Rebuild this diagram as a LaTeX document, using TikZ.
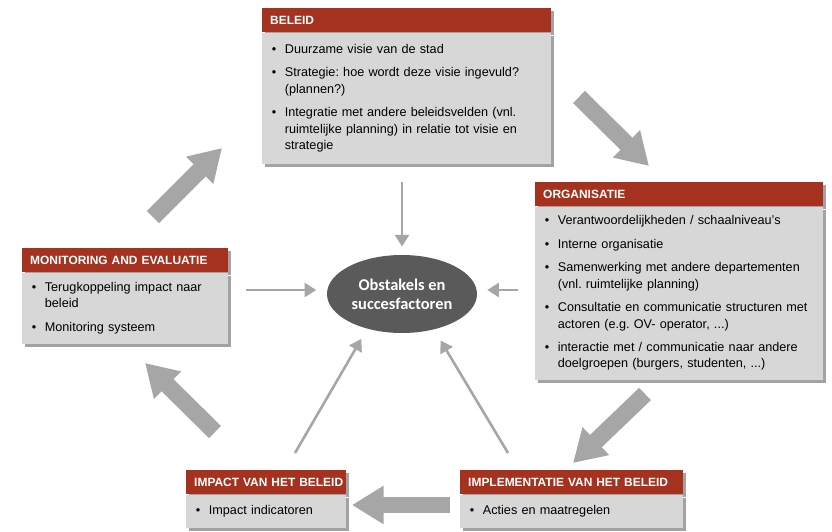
\documentclass[tikz,border=0pt]{standalone}
\usepackage{fontspec}
\setmainfont{Liberation Sans}
\newfontfamily\ellipseFont{Carlito}
\usepackage{tikz}
\usetikzlibrary{positioning,shadows,arrows.meta,shapes.geometric}
\definecolor{headerColor}{HTML}{A5321F}
\definecolor{bodyColor}{HTML}{D7D7D7}
\definecolor{arrowColor}{HTML}{A6A6A6}
\definecolor{ellipseColor}{HTML}{5A5A5A}
\tikzstyle{diagram} = [x = 0.03cm, y = -0.03cm]
\tikzstyle{boxShadow} = [drop shadow={shadow xshift=2.5pt, shadow yshift=-2.5pt, fill=black!45, opacity=.8}]
\tikzstyle{headerStyle} = [boxShadow, fill=headerColor, text=white, font=\fontsize{10.2}{12}\selectfont\bfseries, anchor=north west, minimum height=0.72cm, inner xsep=0.24cm, inner ysep=0pt, align=left]
\tikzstyle{bodyStyle} = [boxShadow, fill=bodyColor, font=\fontsize{10.8}{13.8}\selectfont\frenchspacing, inner xsep=0.24cm, inner ysep=0pt, align=left, execute at begin node={\setlength{\parskip}{6.5pt}\vspace*{-13pt}}]
\tikzstyle{ellipseStyle} = [ellipse, fill=ellipseColor, text=white, minimum width=4.5cm, minimum height=2.34cm, inner sep=0pt, align=center, font=\ellipseFont\bfseries\fontsize{14}{16}\selectfont]
\tikzstyle{blockArrow} = [draw=arrowColor, line width=14.5pt, -{Triangle[width=31pt, length=27pt]}]
\tikzstyle{thinArrow} = [draw=arrowColor, line width=2.2pt, -{Triangle[width=12pt, length=10pt]}]
\newcommand{\bulletItem}[1]{\par\hangindent=12.5pt\hangafter=1\noindent\makebox[12.5pt][l]{\hspace{1.5pt}\textbullet}#1\par}
\newcommand{\infoBox}[7]{
  \pgfmathsetmacro{\boxWidth}{#4 * 0.03}
  \pgfmathsetmacro{\boxText}{(#4 - 16) * 0.03}
  \pgfmathsetmacro{\boxHeight}{#5 * 0.03}
  \node [headerStyle, minimum width=\boxWidth cm, text width=\boxText cm] (#1Head) at (#2, #3) {\mbox{#6}};
  \node [bodyStyle, minimum width=\boxWidth cm, minimum height=\boxHeight cm, text width=\boxText cm, below=0pt of #1Head] (#1Body) {#7};
}

\begin{document}
\begin{tikzpicture}[diagram]
  \fill [white] (0,0) rectangle (832,532);
  \useasboundingbox (0,0) rectangle (832,532);

  \infoBox{beleid}{262}{8}{289}{131}{BELEID}{\bulletItem{Duurzame visie van de stad}\bulletItem{Strategie: hoe wordt deze visie ingevuld?\newline (plannen?)}\bulletItem{Integratie met andere beleidsvelden (vnl.\newline ruimtelijke planning) in relatie tot visie en\newline strategie}}
  \infoBox{organisatie}{535}{182}{288}{173}{ORGANISATIE}{\bulletItem{Verantwoordelijkheden / schaalniveau's}\bulletItem{Interne organisatie}\bulletItem{Samenwerking met andere departementen\newline (vnl. ruimtelijke planning)}\bulletItem{Consultatie en communicatie structuren met\newline actoren (e.g. OV- operator, ...)}\bulletItem{interactie met / communicatie naar andere\newline doelgroepen (burgers, studenten, ...)}}
  \infoBox{monitoring}{22}{248}{206}{71}{MONITORING AND EVALUATIE}{\bulletItem{Terugkoppeling impact naar\newline beleid}\bulletItem{Monitoring systeem}}
  \infoBox{impact}{186}{470}{160}{33}{IMPACT VAN HET BELEID}{\bulletItem{Impact indicatoren}}
  \infoBox{implementatie}{460}{470}{223}{33}{IMPLEMENTATIE VAN HET BELEID}{\bulletItem{Acties en maatregelen}}

  \node [ellipseStyle] (obstakels) at (402,294) {Obstakels en\\succesfactoren};

  \coordinate (toBeleidStart) at (153,217);
  \coordinate (toBeleidEnd) at (222,148);
  \coordinate (toOrganisatieStart) at (579,97);
  \coordinate (toOrganisatieEnd) at (649,166);
  \coordinate (toImplementatieStart) at (645,394);
  \coordinate (toImplementatieEnd) at (573,463);
  \coordinate (toImpactStart) at (450,505);
  \coordinate (toImpactEnd) at (352,505);
  \coordinate (toMonitoringStart) at (215,432);
  \coordinate (toMonitoringEnd) at (145,363);
  \draw [blockArrow] (toBeleidStart) -- (toBeleidEnd);
  \draw [blockArrow] (toOrganisatieStart) -- (toOrganisatieEnd);
  \draw [blockArrow] (toImplementatieStart) -- (toImplementatieEnd);
  \draw [blockArrow] (toImpactStart) -- (toImpactEnd);
  \draw [blockArrow] (toMonitoringStart) -- (toMonitoringEnd);

  \coordinate (beleidLink) at (402,182);
  \coordinate (monitoringLink) at (246,290);
  \coordinate (organisatieLink) at (518,290);
  \coordinate (impactLink) at (295,453);
  \coordinate (implementatieLink) at (508,453);
  \draw [thinArrow, shorten >=7pt] (beleidLink) -- (obstakels.north);
  \draw [thinArrow, shorten >=9pt] (monitoringLink) -- (monitoringLink -| obstakels.west);
  \draw [thinArrow, shorten >=8.5pt] (organisatieLink) -- (organisatieLink -| obstakels.east);
  \draw [thinArrow, shorten >=10pt] (impactLink) -- (obstakels.225);
  \draw [thinArrow, shorten >=11pt] (implementatieLink) -- (obstakels.-48);
\end{tikzpicture}
\end{document}
